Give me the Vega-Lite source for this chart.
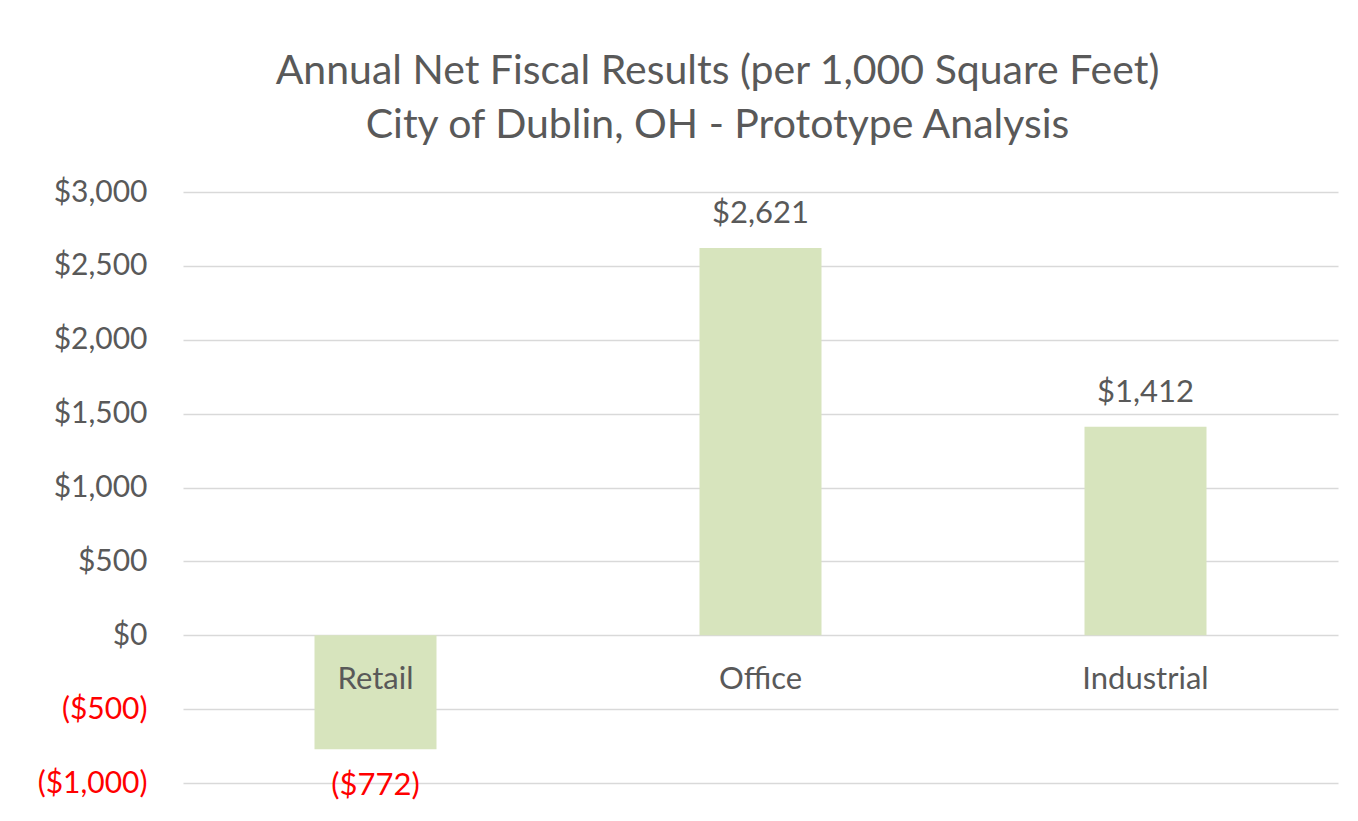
{
  "$schema": "https://vega.github.io/schema/vega-lite/v6.json",
  "autosize": "none",
  "width": 1155,
  "height": 591,
  "padding": {"left": 183, "top": 192, "right": 20, "bottom": 38},
  "background": "white",
  "config": {
    "view": {"stroke": null},
    "font": "Lato"
  },
  "title": {
    "text": ["Annual Net Fiscal Results (per 1,000 Square Feet)", "City of Dublin, OH - Prototype Analysis"],
    "fontSize": 41,
    "fontWeight": "normal",
    "font": "Lato",
    "color": "#595959",
    "lineHeight": 54,
    "anchor": "middle",
    "dx": -43,
    "offset": 30
  },
  "data": {
    "values": [
      {"category": "Retail", "value": -772},
      {"category": "Office", "value": 2621},
      {"category": "Industrial", "value": 1412}
    ]
  },
  "encoding": {
    "x": {"field": "category", "type": "nominal", "sort": null, "axis": null,
          "scale": {"paddingInner": 0.1, "paddingOuter": 0.05}}
  },
  "layer": [
    {
      "mark": {"type": "bar", "color": "#D7E4BD", "width": 122},
      "encoding": {
        "y": {"field": "value", "type": "quantitative",
              "scale": {"domain": [-1000, 3000], "nice": false, "zero": false},
              "axis": {
                "title": null,
                "values": [-1000, -500, 0, 500, 1000, 1500, 2000, 2500, 3000],
                "domain": false,
                "ticks": false,
                "grid": true,
                "gridColor": "#D9D9D9",
                "gridWidth": 1.5,
                "labelFont": "Lato",
                "labelFontSize": 30,
                "labelPadding": 36,
                "labelExpr": "datum.value < 0 ? '($' + format(-datum.value, ',') + ')' : '$' + format(datum.value, ',')",
                "labelColor": {"condition": {"test": "datum.value < 0", "value": "#FF0000"}, "value": "#595959"}
              }}
      }
    },
    {
      "transform": [{"filter": "datum.value >= 0"}],
      "mark": {"type": "text", "fontSize": 31, "color": "#595959", "baseline": "alphabetic", "dy": -25},
      "encoding": {
        "y": {"field": "value", "type": "quantitative"},
        "text": {"field": "value", "type": "quantitative", "format": "$,"}
      }
    },
    {
      "transform": [{"filter": "datum.value < 0"}, {"calculate": "'($' + format(-datum.value, ',') + ')'", "as": "label"}],
      "mark": {"type": "text", "fontSize": 31, "color": "#FF0000", "baseline": "alphabetic", "dy": 46},
      "encoding": {
        "y": {"field": "value", "type": "quantitative"},
        "text": {"field": "label", "type": "nominal"}
      }
    },
    {
      "mark": {"type": "text", "fontSize": 31, "color": "#595959", "baseline": "middle", "dy": 45},
      "encoding": {
        "y": {"datum": 0},
        "text": {"field": "category", "type": "nominal"}
      }
    }
  ]
}
